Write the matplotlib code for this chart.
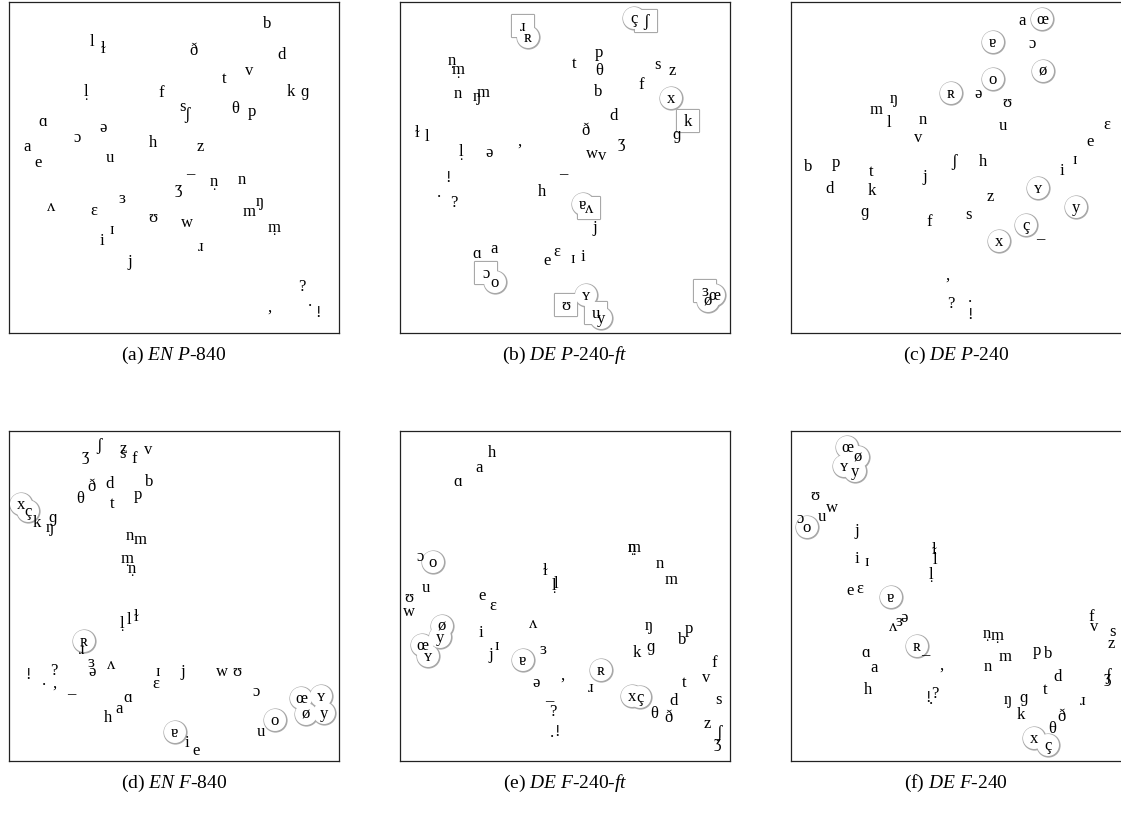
"""Six panels of phoneme layouts (IPA symbols placed by position)"""

import matplotlib
matplotlib.use("Agg")
import matplotlib.pyplot as plt

plt.rcParams["font.family"] = ["Liberation Serif", "DejaVu Serif"]
plt.rcParams["mathtext.fontset"] = "custom"
plt.rcParams["mathtext.rm"] = "Liberation Serif"
plt.rcParams["mathtext.it"] = "Liberation Serif:italic"

# ── data: symbol, x, y per panel (y grows downward) ──

a_sym = ["b", "l", "ɫ", "ð", "d", "v", "t", "l̩", "f", "k", "ɡ", "s", "ʃ", "θ", "p",
         "ɑ", "ɔ", "ə", "a", "h", "z", "e", "u", "–", "ʒ", "n̩", "n", "ŋ", "m", "ʌ",
         "ɛ", "ɜ", "ʊ", "w", "m̩", "ɪ", "i", "ɹ", "j", "?", ".", ",", "!"]
a_x = [258, 83, 94, 184, 273, 240, 215, 77, 152, 282, 296, 174, 178, 226, 243,
       34, 68, 94, 18, 144, 191, 29, 101, 181, 169, 205, 233, 251, 240, 42,
       85, 113, 144, 178, 265, 103, 93, 192, 121, 293, 301, 260, 309]
a_y = [21, 39, 46, 48, 52, 68, 76, 89, 90, 89, 89, 104, 112, 106, 109,
       119, 135, 125, 144, 140, 144, 160, 155, 171, 186, 179, 177, 199, 209, 204,
       208, 196, 215, 220, 225, 227, 238, 244, 259, 284, 299, 305, 310]

b_sym = ["ɹ", "ʀ", "ç", "ʃ", "p", "t", "θ", "s", "z", "n̩", "m̩", "f", "b", "n", "ŋ",
         "m", "x", "k", "d", "ɡ", "ɫ", "l", "ð", "ʒ", ",", "l̩", "ə", "w", "v", "!",
         "–", "h", ".", "?", "ɐ", "ʌ", "j", "ɑ", "a", "e", "ɛ", "ɪ", "i", "ɔ", "o",
         "ʊ", "ʏ", "u", "y", "ɜ", "œ", "ø"]
b_x = [123, 128, 234, 246, 199, 174, 199, 258, 272, 52, 58, 241, 198, 58, 77,
       83, 271, 288, 214, 277, 17, 27, 186, 221, 119, 61, 89, 192, 202, 48,
       163, 142, 39, 54, 183, 189, 195, 77, 94, 147, 157, 173, 183, 86, 95,
       166, 186, 196, 201, 305, 314, 308]
b_y = [24, 35, 16, 19, 50, 61, 68, 62, 68, 58, 67, 82, 89, 91, 94,
       90, 96, 119, 113, 132, 130, 134, 128, 140, 139, 149, 150, 151, 153, 175,
       171, 189, 190, 200, 202, 206, 225, 251, 246, 258, 249, 256, 254, 271, 280,
       303, 293, 311, 316, 289, 293, 299]

c_sym = ["a", "œ", "ɐ", "ɔ", "ø", "o", "ŋ", "ʀ", "ə", "ʊ", "m", "l", "n", "u", "ɛ",
         "v", "e", "b", "p", "t", "ʃ", "h", "ɪ", "i", "j", "d", "k", "ʏ", "z", "ɡ",
         "y", "s", "f", "ç", "–", "x", ",", ".", "?", "!"]
c_x = [231, 251, 202, 241, 252, 202, 103, 160, 187, 216, 85, 98, 132, 212, 316,
       127, 299, 17, 45, 80, 163, 192, 284, 271, 134, 39, 81, 247, 199, 74,
       285, 178, 138, 235, 249, 208, 156, 179, 160, 179]
c_y = [18, 17, 40, 41, 69, 77, 96, 91, 91, 100, 107, 120, 117, 123, 122,
       135, 139, 164, 160, 169, 159, 159, 157, 168, 174, 186, 188, 186, 194, 209,
       205, 212, 219, 223, 236, 239, 273, 295, 301, 312]

d_sym = ["ʒ", "ʃ", "z", "s", "f", "v", "θ", "ð", "d", "t", "p", "b", "x", "ç", "k",
         "ɡ", "ŋ", "n", "m", "m̩", "n̩", "l̩", "l", "ɫ", "ʀ", "ɹ", "!", ".", "?", ",",
         "ɜ", "ə", "ʌ", "–", "ɪ", "ɛ", "j", "w", "ʊ", "ɔ", "h", "a", "ɑ", "œ", "ʏ",
         "ø", "y", "o", "u", "ɐ", "i", "e"]
d_x = [76, 90, 114, 113, 125, 139, 71, 83, 101, 103, 129, 140, 12, 19, 28,
       44, 41, 121, 131, 118, 123, 113, 120, 127, 75, 73, 19, 35, 45, 45,
       82, 83, 102, 62, 149, 147, 174, 213, 228, 247, 99, 110, 119, 292, 312,
       297, 315, 266, 252, 166, 178, 187]
d_y = [24, 14, 17, 22, 27, 18, 67, 55, 52, 72, 63, 50, 73, 80, 91,
       86, 96, 104, 108, 127, 137, 192, 188, 185, 210, 218, 243, 249, 239, 252,
       231, 240, 233, 262, 240, 252, 240, 240, 240, 260, 286, 277, 266, 267, 265,
       283, 282, 289, 300, 301, 311, 319]

e_sym = ["h", "a", "ɑ", "n̩", "m̩", "n", "m", "ɔ", "o", "ɫ", "l̩", "l", "u", "ʊ", "w",
         "e", "ɛ", "ø", "y", "œ", "ʏ", "i", "ʌ", "j", "ɪ", "ɐ", "ɜ", "ə", ",", "ʀ",
         "ɹ", "–", "?", ".", "!", "ŋ", "k", "ɡ", "b", "p", "f", "v", "t", "d", "x",
         "ç", "θ", "ð", "s", "z", "ʃ", "ʒ"]
e_x = [92, 79, 58, 232, 234, 260, 271, 20, 33, 145, 154, 156, 26, 9, 9,
       82, 93, 42, 40, 22, 28, 81, 133, 91, 97, 123, 143, 136, 162, 201,
       191, 149, 153, 152, 157, 249, 237, 251, 282, 289, 314, 306, 284, 274, 232,
       240, 254, 269, 319, 307, 319, 317]
e_y = [21, 36, 50, 116, 116, 132, 148, 125, 131, 139, 154, 152, 156, 166, 180,
       164, 174, 195, 206, 214, 225, 201, 192, 223, 214, 229, 218, 251, 244, 239,
       256, 269, 280, 301, 300, 194, 221, 215, 208, 197, 231, 246, 251, 269, 265,
       266, 282, 286, 268, 292, 301, 311]

f_sym = ["œ", "ø", "ʏ", "y", "ʊ", "w", "u", "ɔ", "o", "j", "ɫ", "l", "i", "ɪ", "l̩",
         "e", "ɛ", "ɐ", "ə", "ɜ", "ʌ", "n̩", "m̩", "f", "v", "s", "z", "ɑ", "ʀ", "–",
         "p", "b", "m", "a", ",", "n", "d", "ʒ", "ʃ", "h", "t", "?", "!", ".", "ɡ",
         "ŋ", "ɹ", "k", "ð", "θ", "x", "ç"]
f_x = [56, 67, 53, 64, 24, 41, 31, 9, 16, 66, 143, 144, 66, 76, 140,
       59, 69, 100, 113, 108, 102, 196, 206, 300, 303, 321, 320, 75, 126, 134,
       246, 257, 214, 83, 150, 197, 267, 316, 317, 77, 254, 144, 137, 140, 233,
       217, 292, 230, 270, 261, 243, 257]
f_y = [16, 26, 35, 40, 64, 76, 85, 87, 96, 99, 118, 128, 127, 130, 143,
       159, 157, 166, 186, 190, 195, 202, 204, 185, 195, 200, 212, 221, 215, 223,
       219, 222, 225, 236, 234, 235, 245, 246, 244, 258, 258, 262, 266, 268, 266,
       268, 269, 283, 285, 297, 307, 314]

circled = ["ʀ", "ç", "x", "ʏ", "y", "ø", "œ", "ɐ", "o"]
b_boxed = ["ɹ", "ʃ", "k", "ʌ", "ɔ", "ʊ", "u", "ɜ"]

panels = [
    ("a", "EN P", "840", a_sym, a_x, a_y, []),
    ("b", "DE P", "240-ft", b_sym, b_x, b_y, b_boxed),
    ("c", "DE P", "240", c_sym, c_x, c_y, []),
    ("d", "EN F", "840", d_sym, d_x, d_y, []),
    ("e", "DE F", "240-ft", e_sym, e_x, e_y, []),
    ("f", "DE F", "240", f_sym, f_x, f_y, []),
]

W, H = 1121, 828
fig = plt.figure(figsize=(W / 100, H / 100), dpi=100, facecolor="white")

# panel frames in pixels: left, top, width, height
frames = [(9, 3, 330, 331), (400, 3, 330, 331), (791, 3, 332, 331),
          (9, 432, 330, 330), (400, 432, 330, 330), (791, 432, 332, 330)]

ms = 250  # marker area (pt^2), ~22 px across
edge = "#a8a8a8"
SYL = "\u0329"  # syllabic mark

for (tag, p1, p2, sym, xs, ys, boxed), (L, T, w, h) in zip(panels, frames):
    ax = fig.add_axes([L / W, (H - T - h) / H, w / W, h / H])
    ax.set_xlim(0, w)
    ax.set_ylim(h, 0)
    ax.set_xticks([])
    ax.set_yticks([])
    for sp in ax.spines.values():
        sp.set_linewidth(0.9)
        sp.set_color("#222222")

    # markers: outline layer then white fill so overlapping ones merge
    for kind, marker in (("box", "s"), ("circ", "o")):
        if kind == "box":
            pts = [(x, y) for s, x, y in zip(sym, xs, ys) if s in boxed]
        else:
            pts = [(x, y) for s, x, y in zip(sym, xs, ys) if s in circled]
        if not pts:
            continue
        px, py = zip(*pts)
        ax.scatter(px, py, s=ms, marker=marker, facecolor="white",
                   edgecolor=edge, linewidth=1.6, zorder=2)
        ax.scatter(px, py, s=ms, marker=marker, facecolor="white",
                   edgecolor="none", zorder=3)

    for s, x, y in zip(sym, xs, ys):
        base = s.replace(SYL, "")
        ax.text(x, y, base, ha="center", va="center", fontsize=12, zorder=4)
        if SYL in s:
            # syllabic dot drawn just under the letter
            ax.text(x, y + 4, ".", ha="center", va="center",
                    fontsize=10, zorder=4)

    p1m = p1.replace(" ", r"\ ")
    tail = "-".join(r"$\mathit{" + t + "}$" for t in p2.split("-"))
    cap = f"({tag}) " + r"$\mathit{" + p1m + "}$" + "-" + tail
    ax.text(0.5 * 330 / w, -0.064, cap, transform=ax.transAxes,
            ha="center", va="center", fontsize=14)

fig.savefig("out.png", dpi=100, facecolor="white")
